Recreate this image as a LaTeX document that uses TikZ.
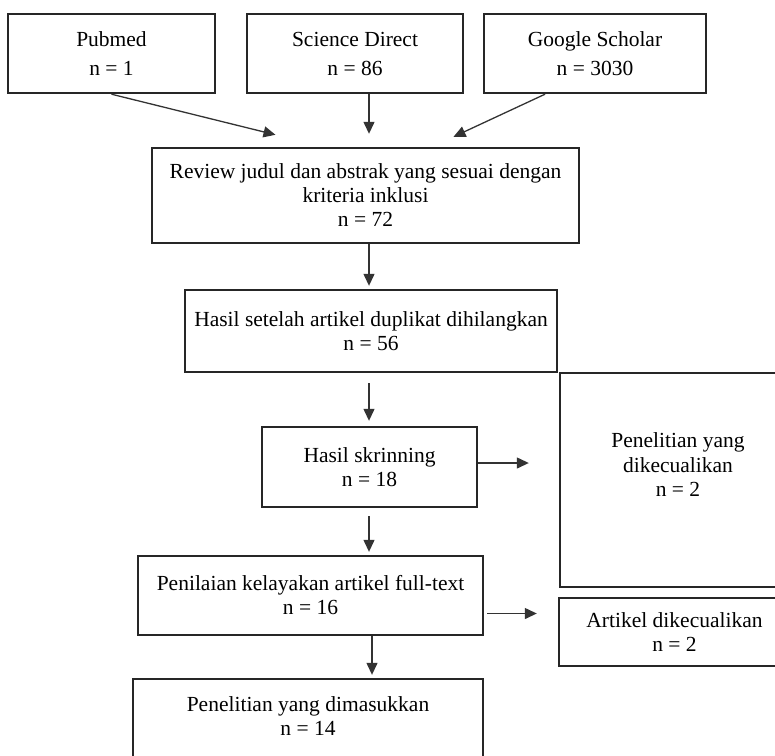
\documentclass[tikz,border=0pt]{standalone}
\usepackage{fontspec}
\setmainfont{Liberation Serif}
\usetikzlibrary{arrows.meta}

\tikzset{
  box/.style={draw=black!85, line width=2.4pt, align=center, inner sep=0pt,
              font=\fontsize{21.5}{24}\selectfont},
  txt/.style={align=center, inner sep=0pt, font=\fontsize{21.5}{24.5}\selectfont},
  arr/.style={draw=black!80, line width=1.3pt, -{Triangle[length=12pt,width=11pt]}}
}

\begin{document}
\begin{tikzpicture}[x=1pt,y=-1pt]

    \useasboundingbox (0,0) rectangle (775,755);
    \clip (0,0) rectangle (775,755);
    \coordinate (spine) at (369,0);

    % sources
    \node[box, minimum width=207pt, minimum height=79pt] (pubmed) at (111.5,53.5) {Pubmed\\[5pt] n = 1};
    \node[box, minimum width=216pt, minimum height=79pt] (sd) at (355,53.5) {Science Direct\\[5pt] n = 86};
    \node[box, minimum width=222pt, minimum height=79pt] (gs) at (595,53.5) {Google Scholar\\[5pt] n = 3030};

    % main column
    \node[box, minimum width=427pt, minimum height=95pt] (review) at (365.5,195.5)
        {Review judul dan abstrak yang sesuai dengan\\ kriteria inklusi\\ n = 72};
    \node[box, minimum width=372pt, minimum height=82pt] (hasil) at (371,331)
        {Hasil setelah artikel duplikat dihilangkan\\ n = 56};
    \node[box, minimum width=215pt, minimum height=80pt] (skrinning) at (369.5,467)
        {Hasil skrinning\\ n = 18};
    \node[box, minimum width=345pt, minimum height=79pt] (penilaian) at (310.5,595.5)
        {Penilaian kelayakan artikel full-text\\ n = 16};
    \node[box, minimum width=350pt, minimum height=91pt] (dimasukkan) at (308,724.5) {};
    \node[txt] (dimasukkanText) at (308,716) {Penelitian yang dimasukkan\\ n = 14};

    % excluded
    \node[box, minimum width=236pt, minimum height=214pt] (exclScreen) at (678,480) {};
    \node[txt] (exclScreenText) at (678,465) {Penelitian yang\\ dikecualikan\\ n = 2};
    \node[box, minimum width=231pt, minimum height=68pt] (exclFull) at (674.5,632)
        {Artikel dikecualikan\\ n = 2};

    % arrows
    \draw[arr] (pubmed.south) -- ([xshift=-90pt,yshift=12pt]review.north);
    \draw[arr, shorten >=13pt] (sd.south -| spine) -- (review.north -| spine);
    \draw[arr] ([xshift=-50pt]gs.south) -- ([xshift=88pt,yshift=10pt]review.north);
    \draw[arr, shorten >=3pt] (review.south -| spine) -- (hasil.north -| spine);
    \draw[arr, shorten <=10pt, shorten >=5pt] (hasil.south -| spine) -- (skrinning.north -| spine);
    \draw[arr, shorten >=30pt] ([yshift=4pt]skrinning.east) -- ([yshift=4pt]skrinning.east -| exclScreen.west);
    \draw[arr, shorten <=8pt, shorten >=3pt] (skrinning.south -| spine) -- (penilaian.north -| spine);
    \draw[arr, shorten <=3pt, shorten >=21pt] ([yshift=-18pt]penilaian.east) -- ([yshift=-18pt]penilaian.east -| exclFull.west);
    \draw[arr, shorten >=3pt] ([xshift=3pt]penilaian.south -| spine) -- ([xshift=3pt]dimasukkan.north -| spine);

\end{tikzpicture}
\end{document}
